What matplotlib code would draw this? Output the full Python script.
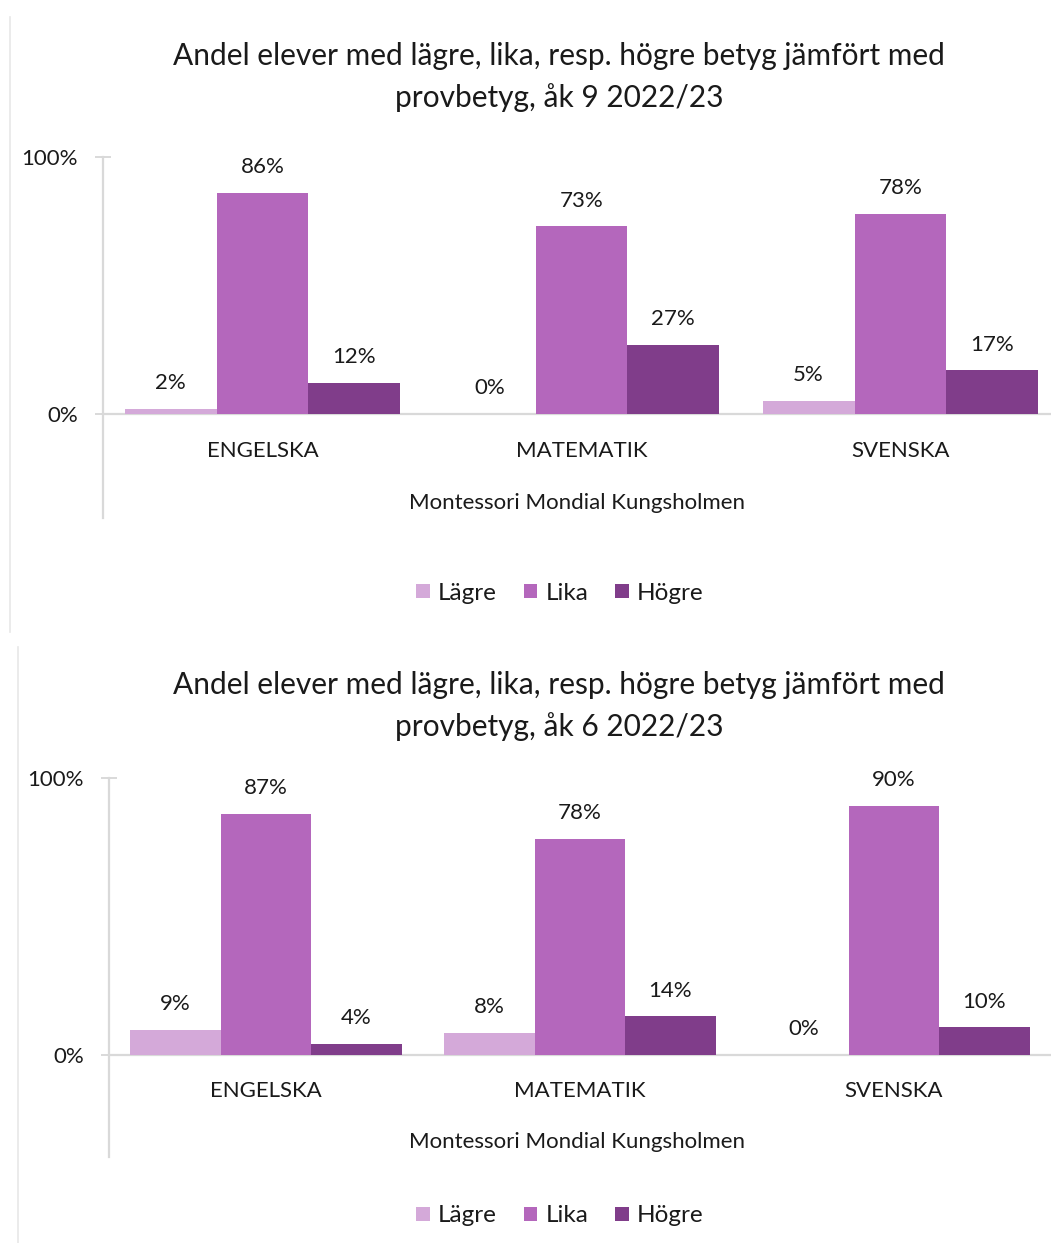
import matplotlib
matplotlib.use("Agg")
import matplotlib.pyplot as plt
from matplotlib.lines import Line2D
from matplotlib.patches import Patch

plt.rcParams['font.family'] = ['Lato', 'DejaVu Sans']

categories = ["ENGELSKA", "MATEMATIK", "SVENSKA"]
series_names = ["Lägre", "Lika", "Högre"]
colors = ["#D4A9D9", "#B467BC", "#803D8A"]

# åk 9
ak9_lagre = [2, 0, 5]
ak9_lika = [86, 73, 78]
ak9_hogre = [12, 27, 17]
# åk 6
ak6_lagre = [9, 8, 0]
ak6_lika = [87, 78, 90]
ak6_hogre = [4, 14, 10]

title9 = "Andel elever med lägre, lika, resp. högre betyg jämfört med\nprovbetyg, åk 9 2022/23"
title6 = "Andel elever med lägre, lika, resp. högre betyg jämfört med\nprovbetyg, åk 6 2022/23"
school = "Montessori Mondial Kungsholmen"
yticks = [0, 100]
yticklabels = ["0%", "100%"]

W, H = 1051, 1243
fig = plt.figure(figsize=(W / 100, H / 100), dpi=100)

GRID = "#D9D9D9"
TXT = "#1a1a1a"
FW = "normal"
FS = 16


def fx(px):
    return px / W


def fy(py):
    return 1 - py / H


def panel(left, right, y0, y100, ext_px, data, title, title_y, cat_y, school_y, leg_y, border_x, border_y):
    ax = fig.add_axes([fx(left), fy(y0 + ext_px), fx(right) - fx(left), fy(y100) - fy(y0 + ext_px)])
    scale = (y0 - y100) / 100.0
    ext = ext_px / scale
    ax.set_ylim(-ext, 100)
    ax.set_xlim(-0.5, 2.5)
    w = 0.288
    offs = [-w, 0, w]
    for vals, off, col in zip(data, offs, colors):
        xs = [i + off for i in range(len(categories))]
        ax.bar(xs, vals, width=w, color=col, zorder=2)
        for x, v in zip(xs, vals):
            ax.annotate(f"{v}%", (x, v), xytext=(0, 18.5), textcoords="offset points",
                        ha="center", va="center", fontsize=FS, color=TXT, fontweight=FW)
    ax.axhline(0, color=GRID, lw=1.6, zorder=1)
    for s in ["top", "right", "bottom"]:
        ax.spines[s].set_visible(False)
    ax.spines["left"].set_color(GRID)
    ax.spines["left"].set_linewidth(1.6)
    ax.set_xticks([])
    ax.set_yticks(yticks)
    ax.set_yticklabels(yticklabels, fontsize=FS, color=TXT, fontweight=FW)
    ax.tick_params(axis="y", direction="inout", length=12, width=1.4, color=GRID, pad=12)
    for i, c in enumerate(categories):
        ax.text(i, -(cat_y - y0) / scale, c, ha="center", va="center", fontsize=FS,
                color=TXT, fontweight=FW)
    fig.text(fx(577), fy(school_y), school, ha="center", va="center", fontsize=FS,
             color=TXT, fontweight=FW)
    fig.text(fx(559), fy(title_y), title, ha="center", va="center", fontsize=21.5, color=TXT,
             linespacing=1.52, fontweight=FW)
    handles = [Patch(facecolor=c, edgecolor="none") for c in colors]
    fig.legend(handles, series_names, loc="center", bbox_to_anchor=(fx(560), fy(leg_y)), ncol=3,
               frameon=False, prop={"size": 17.5, "weight": FW}, handlelength=0.55,
               handleheight=0.55, handletextpad=0.35, columnspacing=1.1, labelcolor=TXT)
    fig.add_artist(Line2D([fx(border_x), fx(border_x)], [fy(border_y[0]), fy(border_y[1])],
                          color="#E8E8E8", lw=1.2))
    return ax


panel(103, 1060, 414, 157, 104, [ak9_lagre, ak9_lika, ak9_hogre], title9, 77, 451, 503, 593,
      9.5, (17, 632))
panel(109, 1051, 1055, 778, 102, [ak6_lagre, ak6_lika, ak6_hogre], title6, 706, 1091, 1142, 1216,
      17.5, (647, 1243))

fig.savefig("out.png", dpi=100)
